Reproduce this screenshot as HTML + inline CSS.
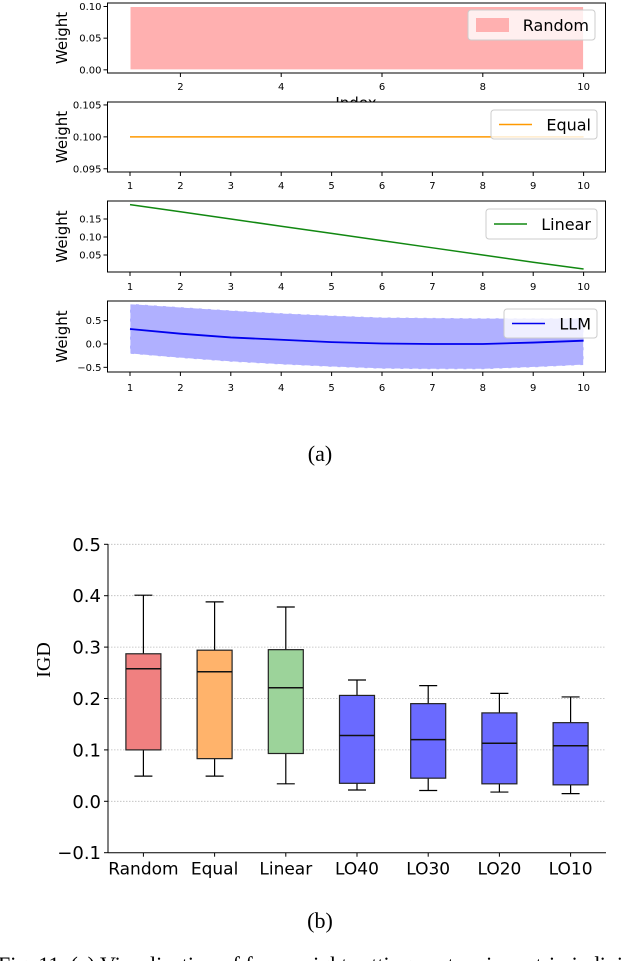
<!DOCTYPE html>
<html><head><meta charset="utf-8">
<style>
html,body{margin:0;padding:0;background:#fff;width:640px;height:961px;overflow:hidden}
svg{display:block}
text{font-family:"DejaVu Sans","Liberation Sans",sans-serif}
</style></head>
<body>
<svg id="fig" width="640" height="961" viewBox="0 0 640 961" xmlns="http://www.w3.org/2000/svg">
<text x="320" y="461" text-anchor="middle" font-size="22" style="font-family:'Liberation Serif',serif">(a)</text>
<text x="320" y="928" text-anchor="middle" font-size="22" style="font-family:'Liberation Serif',serif">(b)</text>
<text x="-2" y="972" font-size="22" style="font-family:'Liberation Serif',serif">Fig. 11.   (a) Visualization of four weight setting vectors in matrix indivi</text>
</svg>
<script>
// ---- data ----
const xIdx = [1,2,3,4,5,6,7,8,9,10];
const randomLow = [0,0,0,0,0,0,0,0,0,0];
const randomHigh = [0.1,0.1,0.1,0.1,0.1,0.1,0.1,0.1,0.1,0.1];
const equalW = [0.1,0.1,0.1,0.1,0.1,0.1,0.1,0.1,0.1,0.1];
const linearW = [0.19,0.17,0.15,0.13,0.11,0.09,0.07,0.05,0.03,0.011];
const llmMean = [0.32,0.22,0.14,0.09,0.04,0.01,0.0,0.0,0.03,0.07];
const llmUpper = [0.86,0.79,0.72,0.66,0.61,0.57,0.56,0.55,0.55,0.55];
const llmLower = [-0.21,-0.3,-0.38,-0.44,-0.49,-0.53,-0.54,-0.54,-0.5,-0.45];
const boxCats = ["Random","Equal","Linear","LO40","LO30","LO20","LO10"];
const boxMin = [0.049,0.049,0.034,0.022,0.021,0.018,0.015];
const boxQ1 = [0.100,0.083,0.093,0.035,0.045,0.034,0.032];
const boxMed = [0.258,0.252,0.221,0.128,0.120,0.113,0.108];
const boxQ3 = [0.287,0.294,0.295,0.206,0.190,0.172,0.153];
const boxMax = [0.401,0.388,0.378,0.236,0.225,0.210,0.203];
const boxColors = ["#f08080","#ffb36b","#9cd39a","#6a6aff","#6a6aff","#6a6aff","#6a6aff"];
const igdTicks = [-0.1,0,0.1,0.2,0.3,0.4,0.5];

const svg = document.getElementById('fig');
const NS = 'http://www.w3.org/2000/svg';
function mk(tag, attrs, parent){const e=document.createElementNS(NS,tag);for(const k in attrs)e.setAttribute(k,attrs[k]);(parent||svg).appendChild(e);return e;}
function txt(s, attrs, parent){const e=mk('text',attrs,parent);e.textContent=s;return e;}

const X0=107.5, X1=605.5;
const sx = v => 130 + (v-1)*(583.6-130)/9;

function panel(name, top, bot, ymin, ymax, yticks, yfmt, xticks, tickY){
  const g = mk('g',{});
  
  
  const sy = v => bot - (v-ymin)/(ymax-ymin)*(bot-top);
  yticks.forEach(t=>{
    const y=sy(t);
    mk('line',{x1:X0-4,x2:X0,y1:y,y2:y,stroke:'#000','stroke-width':1},g);
    const l=txt(yfmt(t),{x:X0-6,y:y+3.5,'text-anchor':'end','font-size':10},g);
    
    
  });
  xticks.forEach(t=>{
    const x=sx(t);
    mk('line',{x1:x,x2:x,y1:bot,y2:bot+4,stroke:'#000','stroke-width':1},g);
    const l=txt(String(t),{x:x,y:tickY,'text-anchor':'middle','font-size':10},g);
    
    
  });
  const yl=txt('Weight',{x:0,y:0,'font-size':15,'text-anchor':'middle',transform:`translate(67,${(top+bot)/2}) rotate(-90)`},g);
  
  
  return {g, sy, frame:()=>mk('rect',{x:X0,y:top,width:X1-X0,height:bot-top,fill:'none',stroke:'#000','stroke-width':1},g)};
}
function legend(g, x1,y1,x2,y2,label,draw){
  const lg=mk('g',{},g);
  
  
  mk('rect',{x:x1,y:y1,width:x2-x1,height:y2-y1,rx:3,fill:'#fff','fill-opacity':0.8,stroke:'#ccc'},lg);
  draw(lg, x1+8, (y1+y2)/2);
  txt(label,{x:x2-6,y:(y1+y2)/2+6,'text-anchor':'end','font-size':16},lg);
}
function pathFrom(xs, ys, sy){return xs.map((x,i)=>(i?'L':'M')+sx(x)+' '+sy(ys[i])).join(' ');}

// Panel 1 Random
{const p=panel('random-panel',3,73,-0.005,0.1055,[0,0.05,0.1],v=>v.toFixed(2),[2,4,6,8,10],90);
 let d=pathFrom(xIdx,randomHigh,p.sy);
 for(let i=xIdx.length-1;i>=0;i--) d+=' L'+sx(xIdx[i])+' '+p.sy(randomLow[i]);
 const a=mk('path',{d:d+'Z',fill:'#ffb0b0',stroke:'#fff','stroke-width':1},p.g);
 
 
 txt('Index',{x:356,y:108,'text-anchor':'middle','font-size':15},p.g);
 p.frame();
 legend(p.g,468,10,595,40,'Random',(g,x,y)=>mk('rect',{x:x,y:y-7,width:33,height:14,fill:'#ffb0b0'},g));
}
// Panel 2 Equal
{const p=panel('equal-panel',102,172,0.0945,0.10546,[0.095,0.1,0.105],v=>v.toFixed(3),xIdx,189);
 mk('rect',{x:X0,y:102,width:X1-X0,height:70,fill:'#fff'},p.g);
 const l=mk('path',{d:pathFrom(xIdx,equalW,p.sy),fill:'none',stroke:'#ff9900','stroke-width':1.5},p.g);
 
 
 p.frame();
 legend(p.g,491,110,597,139,'Equal',(g,x,y)=>mk('line',{x1:x,x2:x+33,y1:y,y2:y,stroke:'#ff9900','stroke-width':1.5},g));
}
// Panel 3 Linear
{const p=panel('linear-panel',201,272,0.0028,0.2,[0.05,0.1,0.15],v=>v.toFixed(2),xIdx,290);
 const l=mk('path',{d:pathFrom(xIdx,linearW,p.sy),fill:'none',stroke:'#118811','stroke-width':1.5},p.g);
 
 
 p.frame();
 legend(p.g,486,209,597,239,'Linear',(g,x,y)=>mk('line',{x1:x,x2:x+33,y1:y,y2:y,stroke:'#118811','stroke-width':1.5},g));
}
// Panel 4 LLM
{const p=panel('llm-panel',301,372,-0.6,0.92,[-0.5,0,0.5],v=>(v<0?'\u2212':'')+Math.abs(v).toFixed(1),xIdx,391);
 let d=pathFrom(xIdx,llmUpper,p.sy);
 for(let i=xIdx.length-1;i>=0;i--) d+=' L'+sx(xIdx[i])+' '+p.sy(llmLower[i]);
 const a=mk('path',{d:d+'Z',fill:'#b0b0ff',stroke:'#fff','stroke-width':0.8,'stroke-dasharray':'6 3'},p.g);
 
 
 const l=mk('path',{d:pathFrom(xIdx,llmMean,p.sy),fill:'none',stroke:'#0000ee','stroke-width':1.8},p.g);
 
 
 p.frame();
 legend(p.g,504,309,597,338,'LLM',(g,x,y)=>mk('line',{x1:x,x2:x+33,y1:y,y2:y,stroke:'#0000ee','stroke-width':1.5},g));
}
// Box plot
{const g=mk('g',{});
 
 
 const top=544.3, bot=852.7, L=108, R=606;
 const sy=v=>bot-(v+0.1)/0.6*(bot-top);
 const cx=i=>143.4+i*71.2;
 igdTicks.forEach(t=>{
  const y=sy(t);
  if(t>-0.1) mk('line',{x1:L,x2:R,y1:y,y2:y,stroke:'#bbb','stroke-width':0.8,'stroke-dasharray':'1.5 1.5'},g);
  mk('line',{x1:L-4,x2:L,y1:y,y2:y,stroke:'#000'},g);
  const l=txt((t<0?'\u2212':'')+Math.abs(t).toFixed(1),{x:L-7,y:y+6.5,'text-anchor':'end','font-size':18},g);
  
  
 });
 mk('line',{x1:L,x2:L,y1:top,y2:bot,stroke:'#000','stroke-width':1},g);
 mk('line',{x1:L,x2:R,y1:bot,y2:bot,stroke:'#000','stroke-width':1},g);
 const yl=txt('IGD',{x:0,y:0,'font-size':20,'text-anchor':'middle',style:"font-family:'Liberation Serif',serif",transform:'translate(50,660) rotate(-90)'},g);
 
 
 boxCats.forEach((c,i)=>{
  const x=cx(i), w=35;
  const bg=mk('g',{},g);
  
  
  mk('line',{x1:x,x2:x,y1:sy(boxMax[i]),y2:sy(boxQ3[i]),stroke:'#000','stroke-width':1.2},bg);
  mk('line',{x1:x,x2:x,y1:sy(boxQ1[i]),y2:sy(boxMin[i]),stroke:'#000','stroke-width':1.2},bg);
  mk('line',{x1:x-9,x2:x+9,y1:sy(boxMax[i]),y2:sy(boxMax[i]),stroke:'#000','stroke-width':1.2},bg);
  mk('line',{x1:x-9,x2:x+9,y1:sy(boxMin[i]),y2:sy(boxMin[i]),stroke:'#000','stroke-width':1.2},bg);
  mk('rect',{x:x-w/2,y:sy(boxQ3[i]),width:w,height:sy(boxQ1[i])-sy(boxQ3[i]),fill:boxColors[i],stroke:'#222','stroke-width':1.2},bg);
  mk('line',{x1:x-w/2,x2:x+w/2,y1:sy(boxMed[i]),y2:sy(boxMed[i]),stroke:'#111','stroke-width':1.5},bg);
  mk('line',{x1:x,x2:x,y1:bot,y2:bot+4,stroke:'#000'},g);
  const l=txt(c,{x:x,y:bot+22,'text-anchor':'middle','font-size':17},g);
  
  
 });
}
</script>
</body></html>
